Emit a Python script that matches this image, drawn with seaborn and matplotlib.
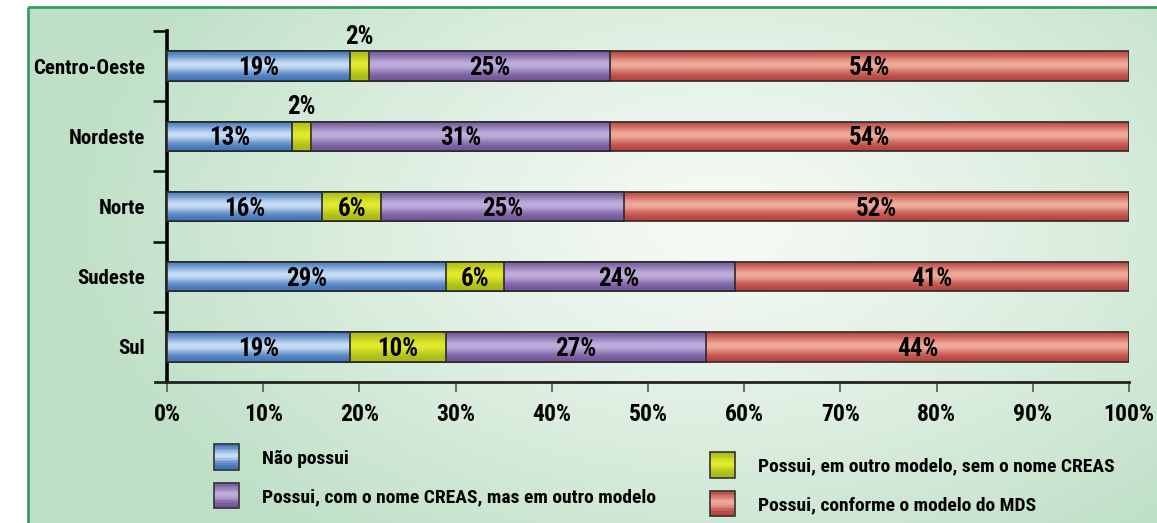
import numpy as np
import pandas as pd
import matplotlib
matplotlib.use('Agg')
import matplotlib.pyplot as plt
from matplotlib import font_manager
from matplotlib.colors import to_rgb
from matplotlib.patches import Patch, Rectangle
from matplotlib.legend_handler import HandlerBase
import seaborn as sns

regioes = ['Centro-Oeste', 'Nordeste', 'Norte', 'Sudeste', 'Sul']
categorias = ['Não possui',
              'Possui, em outro modelo, sem o nome CREAS',
              'Possui, com o nome CREAS, mas em outro modelo',
              'Possui, conforme o modelo do MDS']
nao_possui = [19, 13, 16, 29, 19]
outro_modelo = [2, 2, 6, 6, 10]
nome_creas = [25, 31, 25, 24, 27]
modelo_mds = [54, 54, 52, 41, 44]
x_ticks = [0, 10, 20, 30, 40, 50, 60, 70, 80, 90, 100]

# cor da borda (escura) e do centro (clara) de cada serie
cores_borda = ['#3f72b8', '#a8b818', '#715499', '#b8423d']
cores_centro = ['#c6ddf5', '#e2ea2c', '#bfaedb', '#eeaa9a']
cores_meio = ['#7ea8dc', '#ccda22', '#9c84c2', '#d8776c']

sns.set_theme(style='ticks')

# procura uma fonte estreita instalada
nomes = {f.name for f in font_manager.fontManager.ttflist}
candidatas = ['Roboto Condensed', 'Open Sans Condensed', 'DejaVu Sans Condensed',
              'Liberation Sans Narrow', 'Noto Sans Condensed', 'Roboto']
FONTE = [n for n in candidatas if n in nomes] + ['DejaVu Sans']
plt.rcParams['font.family'] = FONTE
plt.rcParams['font.weight'] = 'bold'
plt.rcParams['font.stretch'] = 'condensed'

df = pd.DataFrame({'regiao': regioes, categorias[0]: nao_possui, categorias[1]: outro_modelo,
                   categorias[2]: nome_creas, categorias[3]: modelo_mds})
valores = df[categorias]
pct = valores.div(valores.sum(axis=1), axis=0) * 100
cum = pct.cumsum(axis=1)


def gradiente(borda, centro, n=64):
    t = np.linspace(0, 1, n)
    w = np.exp(-((t - 0.45) / 0.28) ** 2)
    b = np.array(to_rgb(borda))
    c = np.array(to_rgb(centro))
    cor = b[None, :] * (1 - w[:, None]) + c[None, :] * w[:, None]
    return cor[:, None, :]


class HandlerGradiente(HandlerBase):
    # quadradinho da legenda com o mesmo degrade das barras
    def __init__(self, borda, centro):
        super().__init__()
        self.cores = gradiente(borda, centro, n=16)[:, 0, :]

    def create_artists(self, legend, orig_handle, xdescent, ydescent, width, height,
                       fontsize, trans):
        n = len(self.cores)
        lado = max(width, height)
        y0 = -ydescent + (height - lado) / 2
        artistas = []
        for r, cor in enumerate(self.cores):
            y = y0 + lado * (1 - (r + 1) / n)
            artistas.append(Rectangle((-xdescent, y), width, lado / n + 0.3,
                                      facecolor=cor, edgecolor='none', transform=trans))
        artistas.append(Rectangle((-xdescent, y0), width, lado, facecolor='none',
                                  edgecolor='#333333', linewidth=1.2, transform=trans))
        return artistas


W, H = 1157, 523
fig = plt.figure(figsize=(W / 100, H / 100), dpi=100)

# fundo verde degrade
bg = fig.add_axes([0, 0, 1, 1], zorder=-5)
yy, xx = np.mgrid[0:H, 0:W]
d = np.sqrt(((xx - 720) / 650.0) ** 2 + ((yy - 220) / 400.0) ** 2)
d = np.clip(d, 0, 1) ** 1.2
claro = np.array(to_rgb('#f6faf6'))
verde = np.array(to_rgb('#bfe0c7'))
img = claro * (1 - d[..., None]) + verde * d[..., None]
img[:7, :, :] = 1
img[:, :28, :] = 1
bg.imshow(img, aspect='auto', extent=(0, W, H, 0))
bg.add_patch(Rectangle((28, 7), W, H, fill=False, edgecolor='#3a9c62', linewidth=2))
bg.set_xlim(0, W)
bg.set_ylim(H, 0)
bg.axis('off')

ax = fig.add_axes([155 / W, 1 - 382 / H, (1129 - 155) / W, (382 - 31) / H])
ax.set_facecolor('none')

ordem = list(reversed(range(len(categorias))))
for j, k in enumerate(ordem):
    plot_df = pd.DataFrame({'regiao': regioes, 'fim': cum[categorias[k]].values})
    sns.barplot(data=plot_df, x='fim', y='regiao', orient='h', color=cores_meio[k],
                width=0.42, saturation=1, errorbar=None, edgecolor='#2a2a2a',
                linewidth=1.2, ax=ax)

for j, k in enumerate(ordem):
    grad = gradiente(cores_borda[k], cores_centro[k])
    for p in ax.containers[j].patches:
        x0, y0, w, h = p.get_x(), p.get_y(), p.get_width(), p.get_height()
        im = ax.imshow(grad, aspect='auto', extent=(x0, x0 + w, y0 + h, y0),
                       origin='upper', zorder=2 + 2 * j, interpolation='bilinear')
        im.set_clip_path(p)
        p.set_facecolor('none')
        p.set_zorder(3 + 2 * j)

# rotulos de porcentagem
for k, cat in enumerate(categorias):
    for i in range(len(regioes)):
        inicio = cum.iloc[i, k] - pct.iloc[i, k]
        centro = inicio + pct.iloc[i, k] / 2
        texto = f'{valores.iloc[i, k]}%'
        if pct.iloc[i, k] < 4:
            ax.text(centro, i - 0.24, texto, ha='center', va='bottom', fontsize=18,
                    fontweight='bold', color='black', zorder=20)
        else:
            ax.text(centro, i + 0.03, texto, ha='center', va='center', fontsize=18,
                    fontweight='bold', color='black', zorder=20)

ax.set_xlim(-1.25, 100)
ax.set_ylim(len(regioes) - 0.5, -0.5)
ax.set_xticks(x_ticks, labels=[f'{v}%' for v in x_ticks])
ax.set_yticks(range(len(regioes)), labels=regioes)
ax.set_yticks(np.arange(len(regioes)) - 0.5, minor=True)
ax.tick_params(axis='y', which='major', length=0, pad=16, labelsize=15, labelcolor='black')
ax.tick_params(axis='y', which='minor', length=10, width=1.8, color='black', direction='out')
ax.tick_params(axis='x', length=7, width=1.2, color='#555555', direction='out', pad=8,
               labelsize=17, labelcolor='black')
for lab in ax.get_xticklabels() + ax.get_yticklabels():
    lab.set_fontweight('bold')
ax.set_xlabel('')
ax.set_ylabel('')

ax.spines['top'].set_visible(False)
ax.spines['right'].set_visible(False)
ax.spines['left'].set_position(('data', 0))
ax.spines['left'].set_linewidth(2.6)
ax.spines['left'].set_color('black')
ax.spines['bottom'].set_linewidth(2)
ax.spines['bottom'].set_color('#222222')
ax.grid(False)

# legenda em duas colunas
handles = [Patch(facecolor=cores_meio[k], edgecolor='#333333', linewidth=1.2) for k in range(4)]
handler_map = {handles[k]: HandlerGradiente(cores_borda[k], cores_centro[k]) for k in range(4)}
leg_kw = dict(frameon=False, fontsize=14, handlelength=1.3, handleheight=1.3,
              handletextpad=1.2, labelspacing=0.9, loc='upper left', handler_map=handler_map)
leg1 = fig.legend([handles[0], handles[2]], [categorias[0], categorias[2]],
                  bbox_to_anchor=(196 / W, 1 - 429 / H), **leg_kw)
leg2 = fig.legend([handles[1], handles[3]], [categorias[1], categorias[3]],
                  bbox_to_anchor=(692 / W, 1 - 437 / H), **leg_kw)
for leg in (leg1, leg2):
    for t in leg.get_texts():
        t.set_color('black')

fig.savefig('out.png', dpi=100)
